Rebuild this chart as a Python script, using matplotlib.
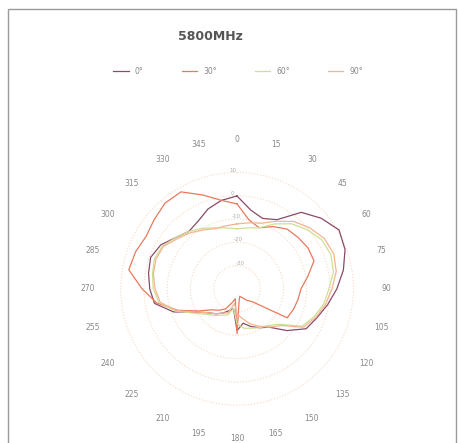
import numpy as np
import matplotlib.pyplot as plt
from matplotlib.patches import Rectangle

# angles in degrees (every 10 deg), values in dB
angles = list(range(0, 360, 10))
names = ["0°", "30°", "60°", "90°"]
colors = ["#8a4a68", "#e8795c", "#cfdf95", "#f6b48e"]

s1 = [-0.1, -5.7, -7.8, -5.7, 2.9, 7.2, 10.6, 9.4, 6.4, 2.9, -0.5, -3.5, -5.7, -12.1, -18.5, -20.7, -22.8, -25.0, -22.0, -31.4,
      -30.0, -28.0, -26.0, -24.0, -20.0, -11.0, -4.0, -2.5, -1.4, -0.5, -2.2, -5.7, -7.8, -6.5, -3.5, -1.4]
s2 = [-3.5, -10.0, -12.1, -9.1, -6.5, -5.7, -4.8, -4.8, -9.1, -12.5, -13.4, -14.2, -15.1, -31.4, -33.6, -35.7, -36.6, -34.8,
      -20.7, -35.7, -33.6, -30.0, -28.0, -26.0, -21.0, -13.0, -5.0, 0.8, 7.2, 6.4, 5.1, 6.4, 8.1, 8.1, 2.9, -1.4]
s3 = [-14.2, -13.4, -12.1, -7.8, -3.5, -0.5, 2.1, 2.9, 2.1, -0.5, -2.2, -4.8, -7.8, -16.4, -19.4, -20.7, -22.0, -22.8, -25.0,
      -31.4, -28.0, -27.0, -25.0, -23.0, -19.0, -12.0, -6.0, -4.0, -3.1, -2.2, -3.1, -5.7, -7.8, -10.0, -12.1, -13.4]
s4 = [-12.1, -11.2, -10.0, -6.5, -2.2, 0.8, 3.3, 4.2, 3.3, 0.8, -1.4, -4.0, -7.0, -15.5, -18.5, -21.5, -24.1, -27.1, -29.3,
      -33.6, -29.0, -28.0, -26.0, -24.0, -20.0, -12.5, -6.5, -4.8, -3.5, -2.9, -3.5, -6.5, -8.6, -10.8, -12.5, -12.5]
series = [s1, s2, s3, s4]

fig = plt.figure(figsize=(4.58, 4.43), dpi=100)
fig.patches.append(Rectangle((8 / 458, -0.05), 448 / 458, 1 - 9 / 443 + 0.05, transform=fig.transFigure,
                             fill=False, edgecolor="#9a9a9a", linewidth=1))

ax = fig.add_axes([0.238, 0.059, 0.559, 0.578], projection="polar")
ax.set_theta_zero_location("N")
ax.set_theta_direction(-1)

theta = np.deg2rad(angles + [angles[0]])
for vals, name, c in zip(series, names, colors):
    ax.plot(theta, vals + [vals[0]], color=c, linewidth=0.9, label=name)

ax.set_ylim(-40, 15)
ax.set_yticks([-30, -20, -10, 0, 10])
ax.set_yticklabels(["-30", "-20", "-10", "0", "10"], fontsize=4, color="#aaaaaa")
ax.set_rlabel_position(356)
ax.set_xticks(np.deg2rad(np.arange(0, 360, 15)))
ax.set_xticklabels([str(a) for a in range(0, 360, 15)], fontsize=5.5, color="#888888")
ax.tick_params(axis="x", pad=5)
ax.grid(True, color="#f6d9c4", linestyle=":", linewidth=0.8)
ax.xaxis.grid(False)
ax.spines["polar"].set_visible(False)

fig.text(210 / 458, 1 - 37 / 443, "5800MHz", fontsize=9, fontweight="bold", color="#555555",
         ha="center", va="center")
fig.legend(loc="center", bbox_to_anchor=(0.52, 1 - 71 / 443), ncol=4, frameon=False, fontsize=5.5,
           handlelength=2, columnspacing=5, labelcolor="#888888")

plt.savefig("out.png", dpi=100)
